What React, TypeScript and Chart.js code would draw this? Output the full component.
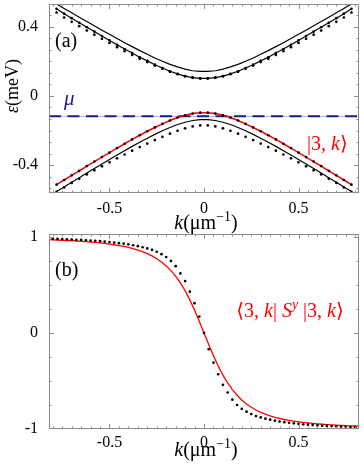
import React, { useEffect, useRef } from "react";
import { Chart, registerables } from "chart.js";
Chart.register(...registerables);

// ---------- Panel (a) data ----------
const K_A = [-0.78, -0.74, -0.70, -0.66, -0.62, -0.58, -0.54, -0.50, -0.46, -0.42, -0.38, -0.34, -0.30, -0.26, -0.22, -0.18, -0.14, -0.10, -0.06, -0.02,
  0.02, 0.06, 0.10, 0.14, 0.18, 0.22, 0.26, 0.30, 0.34, 0.38, 0.42, 0.46, 0.50, 0.54, 0.58, 0.62, 0.66, 0.70, 0.74, 0.78];
const UPPER_OUTER = [0.530, 0.504, 0.479, 0.454, 0.429, 0.404, 0.379, 0.355, 0.331, 0.307, 0.284, 0.261, 0.240, 0.219, 0.200, 0.182, 0.167, 0.154, 0.145, 0.141,
  0.141, 0.145, 0.154, 0.167, 0.182, 0.200, 0.219, 0.240, 0.261, 0.284, 0.307, 0.331, 0.355, 0.379, 0.404, 0.429, 0.454, 0.479, 0.504, 0.530];
const UPPER_INNER = [0.502, 0.474, 0.448, 0.422, 0.396, 0.371, 0.345, 0.320, 0.295, 0.270, 0.247, 0.223, 0.202, 0.180, 0.161, 0.142, 0.127, 0.114, 0.105, 0.101,
  0.101, 0.105, 0.114, 0.127, 0.142, 0.161, 0.180, 0.202, 0.223, 0.247, 0.270, 0.295, 0.320, 0.345, 0.371, 0.396, 0.422, 0.448, 0.474, 0.502];
const UPPER_DOTS = [0.481, 0.452, 0.427, 0.402, 0.377, 0.353, 0.329, 0.305, 0.281, 0.258, 0.236, 0.214, 0.195, 0.175, 0.157, 0.139, 0.125, 0.113, 0.105, 0.101,
  0.101, 0.105, 0.113, 0.125, 0.139, 0.157, 0.175, 0.195, 0.214, 0.236, 0.258, 0.281, 0.305, 0.329, 0.353, 0.377, 0.402, 0.427, 0.452, 0.481];
const LOWER_RED = [-0.512, -0.485, -0.458, -0.432, -0.405, -0.379, -0.353, -0.327, -0.301, -0.276, -0.251, -0.227, -0.204, -0.182, -0.161, -0.142, -0.125, -0.112, -0.102, -0.097,
  -0.097, -0.102, -0.112, -0.125, -0.142, -0.161, -0.182, -0.204, -0.227, -0.251, -0.276, -0.301, -0.327, -0.353, -0.379, -0.405, -0.432, -0.458, -0.485, -0.512];
const LOWER_BLACK = [-0.552, -0.525, -0.498, -0.472, -0.445, -0.419, -0.393, -0.367, -0.341, -0.316, -0.291, -0.267, -0.244, -0.222, -0.201, -0.182, -0.165, -0.152, -0.142, -0.137,
  -0.137, -0.142, -0.152, -0.165, -0.182, -0.201, -0.222, -0.244, -0.267, -0.291, -0.316, -0.341, -0.367, -0.393, -0.419, -0.445, -0.472, -0.498, -0.525, -0.552];
const LOWER_DOTS = [-0.554, -0.528, -0.502, -0.478, -0.453, -0.429, -0.406, -0.383, -0.360, -0.338, -0.316, -0.295, -0.275, -0.255, -0.236, -0.218, -0.201, -0.187, -0.176, -0.170,
  -0.170, -0.176, -0.187, -0.201, -0.218, -0.236, -0.255, -0.275, -0.295, -0.316, -0.338, -0.360, -0.383, -0.406, -0.429, -0.453, -0.478, -0.502, -0.528, -0.554];
const MU = -0.118;
const MU_K = [-0.82, 0.82];

// ---------- Panel (b) data ----------
const K_B = [-0.825, -0.8, -0.775, -0.75, -0.725, -0.7, -0.675, -0.65, -0.625, -0.6, -0.575, -0.55, -0.525, -0.5, -0.475, -0.45, -0.425, -0.4, -0.375, -0.35, -0.325, -0.3, -0.275, -0.25, -0.225, -0.2, -0.175, -0.15, -0.125, -0.1, -0.075, -0.05, -0.025, 0,
  0.025, 0.05, 0.075, 0.1, 0.125, 0.15, 0.175, 0.2, 0.225, 0.25, 0.275, 0.3, 0.325, 0.35, 0.375, 0.4, 0.425, 0.45, 0.475, 0.5, 0.525, 0.55, 0.575, 0.6, 0.625, 0.65, 0.675, 0.7, 0.725, 0.75, 0.775, 0.8, 0.825];
const SY_RED = [0.971, 0.969, 0.967, 0.965, 0.962, 0.960, 0.957, 0.954, 0.950, 0.946, 0.942, 0.937, 0.932, 0.925, 0.918, 0.910, 0.901, 0.890, 0.878, 0.863, 0.846, 0.826, 0.802, 0.773, 0.739, 0.698, 0.649, 0.591, 0.521, 0.439, 0.344, 0.237, 0.121, 0,
  -0.121, -0.237, -0.344, -0.439, -0.521, -0.591, -0.649, -0.698, -0.739, -0.773, -0.802, -0.826, -0.846, -0.863, -0.878, -0.890, -0.901, -0.910, -0.918, -0.925, -0.932, -0.937, -0.942, -0.946, -0.950, -0.954, -0.957, -0.960, -0.962, -0.965, -0.967, -0.969, -0.971];
const SY_DOTS = [0.983, 0.981, 0.979, 0.977, 0.975, 0.972, 0.970, 0.968, 0.965, 0.962, 0.959, 0.955, 0.951, 0.946, 0.941, 0.935, 0.929, 0.922, 0.913, 0.903, 0.892, 0.880, 0.865, 0.845, 0.820, 0.790, 0.750, 0.695, 0.620, 0.540, 0.430, 0.310, 0.170, 0,
  -0.170, -0.310, -0.430, -0.540, -0.620, -0.695, -0.750, -0.790, -0.820, -0.845, -0.865, -0.880, -0.892, -0.903, -0.913, -0.922, -0.929, -0.935, -0.941, -0.946, -0.951, -0.955, -0.959, -0.962, -0.965, -0.968, -0.970, -0.972, -0.975, -0.977, -0.979, -0.981, -0.983];

// ---------- ticks ----------
const X_TICKS = [-0.5, 0, 0.5];
const Y_TICKS_A = [-0.4, 0, 0.4];
const Y_TICKS_B = [-1, 0, 1];

const SERIF = '"Liberation Serif", "DejaVu Serif", serif';
const RED = "#ff0000";
const NAVY = "#1c1c8c";

type Seg = { t: string; it?: boolean; sup?: boolean };

function segFont(s: Seg, size: number) {
  const sz = s.sup ? Math.round(size * 0.68) : size;
  return `${s.it ? "italic " : ""}${sz}px ${SERIF}`;
}
function drawRich(ctx: CanvasRenderingContext2D, segs: Seg[], x: number, y: number, size: number, color: string, align: "left" | "center" = "left") {
  ctx.save();
  ctx.fillStyle = color;
  ctx.textBaseline = "alphabetic";
  ctx.textAlign = "left";
  let w = 0;
  for (const s of segs) { ctx.font = segFont(s, size); w += ctx.measureText(s.t).width; }
  let cx = align === "center" ? x - w / 2 : x;
  for (const s of segs) {
    ctx.font = segFont(s, size);
    ctx.fillText(s.t, cx, s.sup ? y - size * 0.4 : y);
    cx += ctx.measureText(s.t).width;
  }
  ctx.restore();
}

function rangeSteps(from: number, to: number, step: number) {
  const out: number[] = [];
  const n = Math.round((to - from) / step);
  for (let i = 0; i <= n; i++) out.push(from + i * step);
  return out;
}

function framePlugin(xMinor: number[], xMajor: number[], yMinor: number[], yMajor: number[], extra: (ctx: CanvasRenderingContext2D, chart: any) => void) {
  return {
    id: "frameTicks",
    afterDraw(chart: any) {
      const ctx: CanvasRenderingContext2D = chart.ctx;
      const a = chart.chartArea;
      const xs = chart.scales.x, ys = chart.scales.y;
      ctx.save();
      ctx.strokeStyle = "#8c8c8c";
      ctx.lineWidth = 1;
      ctx.strokeRect(a.left + 0.5, a.top + 0.5, a.right - a.left - 1, a.bottom - a.top - 1);
      ctx.beginPath();
      const draw = (vals: number[], len: number) => {
        for (const v of vals) {
          const px = Math.round(xs.getPixelForValue(v)) + 0.5;
          if (px > a.left + 1 && px < a.right - 1) {
            ctx.moveTo(px, a.bottom); ctx.lineTo(px, a.bottom - len);
            ctx.moveTo(px, a.top); ctx.lineTo(px, a.top + len);
          }
        }
      };
      const drawY = (vals: number[], len: number) => {
        for (const v of vals) {
          const py = Math.round(ys.getPixelForValue(v)) + 0.5;
          if (py > a.top + 1 && py < a.bottom - 1) {
            ctx.moveTo(a.left, py); ctx.lineTo(a.left + len, py);
            ctx.moveTo(a.right, py); ctx.lineTo(a.right - len, py);
          }
        }
      };
      draw(xMinor, 2.5); draw(xMajor, 5);
      drawY(yMinor, 2.5); drawY(yMajor, 5);
      ctx.stroke();
      ctx.restore();
      extra(ctx, chart);
    },
  };
}

const pts = (xs: number[], ys: number[]) => xs.map((x, i) => ({ x, y: ys[i] }));

const lineDs = (data: any[], color: string, width: number, extra: any = {}) => ({
  data, showLine: true, borderColor: color, borderWidth: width, pointRadius: 0, fill: false, tension: 0, ...extra,
});
const dotDs = (data: any[]) => ({
  data, showLine: false, pointRadius: 1.35, pointBackgroundColor: "#000", pointBorderWidth: 0, borderColor: "#000",
});

function baseScales(yMin: number, yMax: number, yTicks: number[], xHeight: number, xPad: number) {
  return {
    x: {
      type: "linear", min: -0.82, max: 0.82,
      grid: { display: false, drawTicks: false }, border: { display: false },
      ticks: { padding: xPad, color: "#000", font: { family: SERIF, size: 16 }, callback: (v: any) => String(v) },
      afterBuildTicks: (s: any) => { s.ticks = X_TICKS.map((v) => ({ value: v })); },
      afterFit: (s: any) => { s.height = xHeight; s.paddingLeft = 0; s.paddingRight = 0; },
    },
    y: {
      type: "linear", min: yMin, max: yMax,
      grid: { display: false, drawTicks: false }, border: { display: false },
      ticks: { padding: 11, color: "#000", font: { family: SERIF, size: 16 }, callback: (v: any) => String(v) },
      afterBuildTicks: (s: any) => { s.ticks = yTicks.map((v) => ({ value: v })); },
      afterFit: (s: any) => { s.width = 49; s.paddingTop = 0; s.paddingBottom = 0; },
    },
  };
}

export default function App() {
  const refA = useRef<HTMLCanvasElement>(null);
  const refB = useRef<HTMLCanvasElement>(null);

  useEffect(() => {
    let chartA: Chart | null = null;
    let chartB: Chart | null = null;
    let cancelled = false;

    const build = () => {
      if (cancelled) return;
      const xMinor = rangeSteps(-0.8, 0.8, 0.05);
      chartA = new Chart(refA.current!, {
        type: "scatter",
        data: {
          datasets: [
            dotDs(pts(K_A, UPPER_INNER)),
            dotDs(pts(K_A, UPPER_DOTS)),
            dotDs(pts(K_A, LOWER_RED)),
            dotDs(pts(K_A, LOWER_DOTS)),
            lineDs(pts(K_A, UPPER_OUTER), "#000", 1.2),
            lineDs(pts(K_A, UPPER_INNER), "#000", 1.2),
            lineDs(pts(K_A, LOWER_RED), RED, 1.5),
            lineDs(pts(K_A, LOWER_BLACK), "#000", 1.2),
            lineDs(pts(MU_K, [MU, MU]), NAVY, 2, { borderDash: [12, 6.5] }),
            lineDs(pts(MU_K, [MU, MU]), "rgba(170,170,205,0.9)", 1),
          ] as any,
        },
        options: {
          animation: false, responsive: false, devicePixelRatio: 1,
          layout: { padding: { top: 1, right: 5, left: 0, bottom: 0 } },
          plugins: { legend: { display: false }, tooltip: { enabled: false } },
          scales: baseScales(-0.56, 0.53, Y_TICKS_A, 47, 6) as any,
        },
        plugins: [framePlugin(xMinor, X_TICKS, rangeSteps(-0.8, 0.8, 0.4 / 6), Y_TICKS_A, (ctx) => {
          drawRich(ctx, [{ t: "(a)" }], 55, 47, 20, "#000");
          drawRich(ctx, [{ t: "μ", it: true }], 64, 105, 21, NAVY);
          drawRich(ctx, [{ t: "|3, " }, { t: "k", it: true }, { t: "⟩" }], 307, 150, 20, RED);
          drawRich(ctx, [{ t: "k", it: true }, { t: "(μm" }, { t: "−1", sup: true }, { t: ")" }], 206, 229, 20, "#000", "center");
          ctx.save();
          ctx.translate(18, 86);
          ctx.rotate(-Math.PI / 2);
          drawRich(ctx, [{ t: "ε", it: true }, { t: "(meV)" }], 0, 0, 18, "#000", "center");
          ctx.restore();
        }) as any],
      });

      chartB = new Chart(refB.current!, {
        type: "scatter",
        data: {
          datasets: [
            dotDs(pts(K_B, SY_DOTS)),
            lineDs(pts(K_B, SY_RED), RED, 1.3),
          ] as any,
        },
        options: {
          animation: false, responsive: false, devicePixelRatio: 1,
          layout: { padding: { top: 9, right: 5, left: 0, bottom: 0 } },
          plugins: { legend: { display: false }, tooltip: { enabled: false } },
          scales: baseScales(-1, 1.03, Y_TICKS_B, 40, 4) as any,
        },
        plugins: [framePlugin(xMinor, X_TICKS, rangeSteps(-1, 1, 0.25), Y_TICKS_B, (ctx) => {
          drawRich(ctx, [{ t: "(b)" }], 55, 51, 20, "#000");
          drawRich(ctx, [{ t: "⟨3, " }, { t: "k", it: true }, { t: "| " }, { t: "S", it: true }, { t: "y", it: true, sup: true }, { t: " |3, " }, { t: "k", it: true }, { t: "⟩" }], 290, 92, 20, RED, "center");
          drawRich(ctx, [{ t: "k", it: true }, { t: "(μm" }, { t: "−1", sup: true }, { t: ")" }], 206, 231, 20, "#000", "center");
        }) as any],
      });
    };

    const fontsApi: any = (document as any).fonts;
    if (fontsApi && fontsApi.load) {
      Promise.all([
        fontsApi.load('16px "Liberation Serif"'),
        fontsApi.load('italic 16px "Liberation Serif"'),
      ]).then(build, build);
    } else {
      build();
    }

    return () => { cancelled = true; chartA?.destroy(); chartB?.destroy(); };
  }, []);

  return (
    <div style={{ position: "fixed", left: 0, top: 0, width: 364, height: 469, background: "#fff" }}>
      <canvas ref={refA} width={364} height={240} style={{ position: "absolute", left: 0, top: 0, width: 364, height: 240 }} />
      <canvas ref={refB} width={364} height={244} style={{ position: "absolute", left: 0, top: 225, width: 364, height: 244 }} />
    </div>
  );
}
